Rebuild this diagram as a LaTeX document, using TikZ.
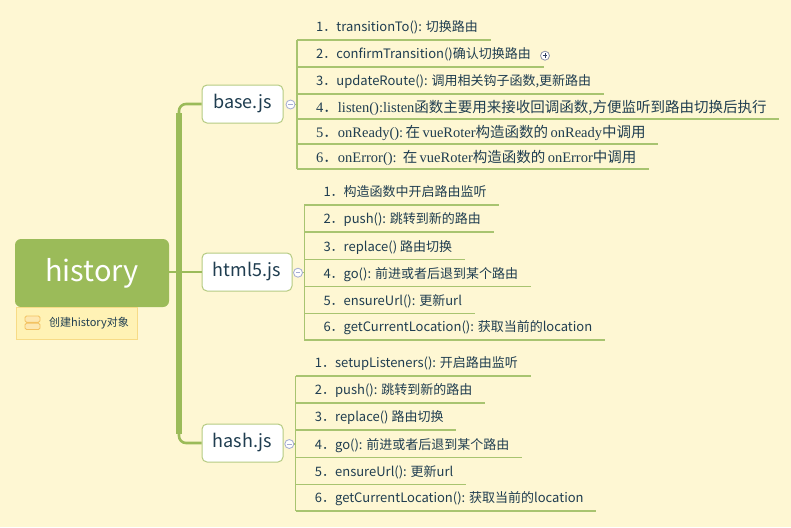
\documentclass[tikz,border=0pt]{standalone}
\usepackage{fontspec}
\setmainfont{Noto Sans CJK SC}
\newfontfamily\seriflatin{Liberation Serif}
\newcommand{\serifbit}[1]{{\seriflatin #1}}
\usetikzlibrary{positioning, calc}
\definecolor{paper}{HTML}{FEF7D3}
\definecolor{leafgreen}{HTML}{9BBB59}
\definecolor{twiggreen}{HTML}{A8C470}
\definecolor{boxline}{HTML}{B5CB82}
\definecolor{ink}{HTML}{1F3D50}
\definecolor{foldblue}{HTML}{A3ABD3}
\definecolor{foldgray}{HTML}{8E93A8}
\definecolor{plusink}{HTML}{2F3F60}
\definecolor{notefill}{HTML}{FFF2B5}
\definecolor{noteline}{HTML}{F7DB86}
\definecolor{iconfill}{HTML}{FDE7B0}
\definecolor{iconline}{HTML}{F3C262}

\tikzset{
  twig/.style={draw=twiggreen, line width=1.2pt},
  trunkline/.style={draw=leafgreen, line width=2.6pt, rounded corners=7pt},
  trunkcore/.style={draw=leafgreen, line width=5.5pt},
  branchbox/.style={rectangle, rounded corners=5pt, draw=boxline, line width=1pt, fill=white, minimum height=38pt, text=ink, font=\fontsize{18pt}{20pt}\selectfont},
  leaf/.style={anchor=south west, inner xsep=12.5pt, inner ysep=8pt, text depth=0pt, text=ink, font=\fontsize{13pt}{15pt}\selectfont},
  leafserif/.style={leaf, inner ysep=6.5pt, font=\fontsize{14.5pt}{17pt}\selectfont},
  fold/.style={circle, draw=foldblue, fill=white, line width=0.8pt, minimum size=9pt, inner sep=0pt,
    path picture={\draw[foldblue, line width=0.9pt] ([xshift=-2.3pt]path picture bounding box.center) -- ([xshift=2.3pt]path picture bounding box.center);}},
  expand/.style={circle, draw=foldgray, fill=white, line width=0.8pt, minimum size=9pt, inner sep=0pt,
    path picture={\draw[plusink, line width=0.9pt] ([xshift=-2.3pt]path picture bounding box.center) -- ([xshift=2.3pt]path picture bounding box.center)
      ([yshift=-2.3pt]path picture bounding box.center) -- ([yshift=2.3pt]path picture bounding box.center);}},
}

\begin{document}
\begin{tikzpicture}[x=1pt, y=-1pt]
\useasboundingbox (0,0) rectangle (791,527);
\fill[paper] (0,0) rectangle (791,527);

% root topic and its note
\node[rectangle, rounded corners=6pt, fill=leafgreen, minimum width=154pt, minimum height=68pt, text=white, font=\fontsize{29pt}{32pt}\selectfont] (root) at (92,273) {history};
\node[rectangle, draw=noteline, fill=notefill, line width=0.8pt, minimum width=121pt, minimum height=32pt] (note) at (76.5,323) {};
\node[anchor=west, inner sep=0pt, text=ink, font=\fontsize{11pt}{13pt}\selectfont] (notetext) at (49,323) {创建history对象};
\draw[draw=iconline, fill=iconfill, line width=0.9pt, rounded corners=1.5pt] (25,316) rectangle (40,322.3);
\draw[draw=iconline, fill=iconfill, line width=0.9pt, rounded corners=1.5pt] (25,323.2) rectangle (40,329.5);

% branch topics
\node[branchbox, minimum width=81pt] (base) at (242.5,104) {base.js};
\node[branchbox, minimum width=90pt] (html5) at (247,272) {html5.js};
\node[branchbox, minimum width=81pt] (hash) at (242.5,443) {hash.js};

\coordinate (trunk) at (179,272);
\draw[trunkline] (base.west) -| (trunk) |- (hash.west);
\draw[trunkcore] ([yshift=-9pt]trunk |- base.west) -- ([yshift=9pt]trunk |- hash.west);
\draw[draw=leafgreen, line width=1.4pt] (root.east |- html5.west) -- (html5.west);

\node[fold] (basefold) at (290.5,104.5) {};
\node[fold] (html5fold) at (298,272.7) {};
\node[fold] (hashfold) at (289.3,444) {};

% base.js leaves
\coordinate (bb) at (297,0);
\node[leaf] (b1) at (303.5,40) {1．transitionTo(): 切换路由};
\node[leaf] (b2) at (303.5,67) {2．confirmTransition()确认切换路由};
\node[leaf] (b3) at (303.5,94) {3．updateRoute(): 调用相关钩子函数,更新路由};
\node[leafserif] (b4) at (303.5,119) {\serifbit{4}．\serifbit{listen():listen}函数主要用来接收回调函数,方便监听到路由切换后执行};
\node[leafserif] (b5) at (303.5,144) {\serifbit{5}．\serifbit{onReady():\,}在\serifbit{\,vueRoter}构造函数的\serifbit{\,onReady}中调用};
\node[leafserif] (b6) at (303.5,169) {\serifbit{6}．\serifbit{onError():\ \,}在\serifbit{\,vueRoter}构造函数的\serifbit{\,onError}中调用};
\node[expand] (b2more) at (545,55.7) {};

% html5.js leaves
\coordinate (hb) at (304.3,0);
\node[leaf] (h1) at (310.8,205) {1．构造函数中开启路由监听};
\node[leaf] (h2) at (310.8,232) {2．push(): 跳转到新的路由};
\node[leaf] (h3) at (310.8,259.3) {3．replace() 路由切换};
\node[leaf] (h4) at (310.8,286.3) {4．go(): 前进或者后退到某个路由};
\node[leaf] (h5) at (310.8,313.3) {5．ensureUrl(): 更新url};
\node[leaf] (h6) at (310.8,340) {6．getCurrentLocation(): 获取当前的location};

% hash.js leaves
\coordinate (sb) at (295.7,0);
\node[leaf] (s1) at (302.2,376) {1．setupListeners(): 开启路由监听};
\node[leaf] (s2) at (302.2,403) {2．push(): 跳转到新的路由};
\node[leaf] (s3) at (302.2,430) {3．replace() 路由切换};
\node[leaf] (s4) at (302.2,457.3) {4．go(): 前进或者后退到某个路由};
\node[leaf] (s5) at (302.2,484.3) {5．ensureUrl(): 更新url};
\node[leaf] (s6) at (302.2,511) {6．getCurrentLocation(): 获取当前的location};

% brackets and underlines
\draw[twig] (basefold.east) -- (basefold.east -| bb);
\draw[twig] (html5fold.east) -- (html5fold.east -| hb);
\draw[twig] (hashfold.east) -- (hashfold.east -| sb);
\draw[twig] (b1.south -| bb) -- (b6.south -| bb);
\draw[twig] (h1.south -| hb) -- (h6.south -| hb);
\draw[twig] (s1.south -| sb) -- (s6.south -| sb);
\foreach \n in {b1,b2,b3,b4,b5,b6} \draw[twig] (\n.south -| bb) -- (\n.south east);
\foreach \n in {h1,h2,h3,h4,h5,h6} \draw[twig] (\n.south -| hb) -- (\n.south east);
\foreach \n in {s1,s2,s3,s4,s5,s6} \draw[twig] (\n.south -| sb) -- (\n.south east);
\end{tikzpicture}
\end{document}
